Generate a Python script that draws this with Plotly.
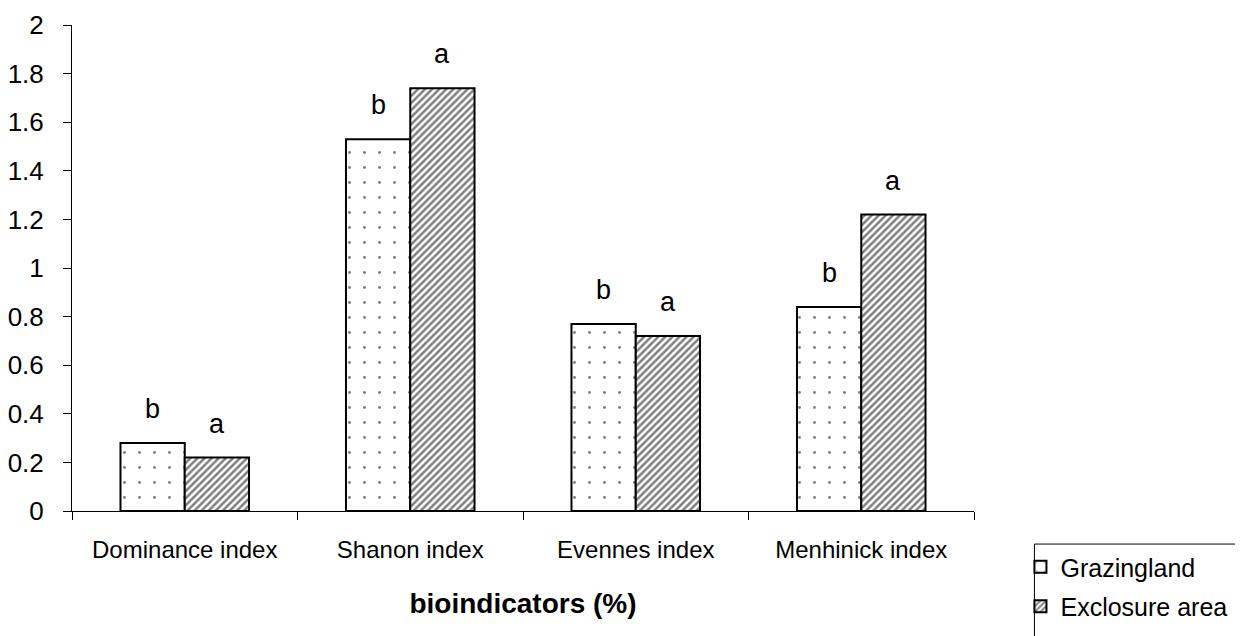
import plotly.graph_objects as go

categories = ["Dominance index", "Shanon index", "Evennes index", "Menhinick index"]
grazing = [0.28, 1.53, 0.77, 0.84]
exclosure = [0.22, 1.74, 0.72, 1.22]
grazing_letters = ["b", "b", "b", "b"]
exclosure_letters = ["a", "a", "a", "a"]
y_ticks = [0, 0.2, 0.4, 0.6, 0.8, 1, 1.2, 1.4, 1.6, 1.8, 2]

FONT = "Arial, Liberation Sans, sans-serif"

fig = go.Figure()
fig.add_trace(go.Bar(
    name="Grazingland", x=categories, y=grazing, legendgroup="g",
    marker=dict(color="white", line=dict(color="black", width=2),
                pattern=dict(shape=".", fgcolor="black", bgcolor="white", size=15, solidity=0.03)),
))
fig.add_trace(go.Bar(
    name="Exclosure area", x=categories, y=exclosure, legendgroup="e",
    marker=dict(color="white", line=dict(color="black", width=2),
                pattern=dict(shape="/", fgcolor="black", bgcolor="white", size=5, solidity=0.5)),
))

annotations = []
for c, g, e, lg, le in zip(categories, grazing, exclosure, grazing_letters, exclosure_letters):
    annotations.append(dict(x=c, y=g, text=lg, xshift=-32, yshift=17, yanchor="bottom",
                            showarrow=False, font=dict(size=27, color="black", family=FONT)))
    annotations.append(dict(x=c, y=e, text=le, xshift=32, yshift=17, yanchor="bottom",
                            showarrow=False, font=dict(size=27, color="black", family=FONT)))

# legend frame (left/top edges visible, rest runs off the page as in the reference)
shapes = [dict(type="rect", xref="paper", yref="paper",
               x0=1.067, x1=1.35, y0=-0.068, y1=-0.40,
               line=dict(color="black", width=1), fillcolor="rgba(0,0,0,0)", layer="below")]

fig.update_layout(
    width=1243, height=636,
    margin=dict(l=64, r=277, t=17, b=133, autoexpand=False),
    paper_bgcolor="white", plot_bgcolor="white",
    barmode="group", bargap=0.43, bargroupgap=0,
    font=dict(family=FONT, color="black"),
    annotations=annotations,
    shapes=shapes,
    legend=dict(x=1.0515, y=-0.068, xanchor="left", yanchor="top",
                borderwidth=0, bgcolor="rgba(0,0,0,0)",
                font=dict(size=25, color="black", family=FONT),
                tracegroupgap=4, itemwidth=30),
    xaxis=dict(
        showline=True, linecolor="black", linewidth=1, automargin=False,
        ticks="outside", tickson="boundaries", ticklen=8, tickcolor="black",
        tickfont=dict(size=24, color="black", family=FONT),
        ticklabelstandoff=17,
        title=dict(text="<b>bioindicators (%)</b>", font=dict(size=28, color="black", family=FONT), standoff=31),
        showgrid=False,
    ),
    yaxis=dict(
        range=[0, 2], tickvals=y_ticks, ticktext=[f"{v:g}" for v in y_ticks],
        showline=True, linecolor="black", linewidth=1, automargin=False,
        ticks="outside", ticklen=8, tickcolor="black",
        tickfont=dict(size=26, color="black", family=FONT),
        ticklabelstandoff=14,
        showgrid=False, zeroline=False,
    ),
)

fig.write_html("out.html")
